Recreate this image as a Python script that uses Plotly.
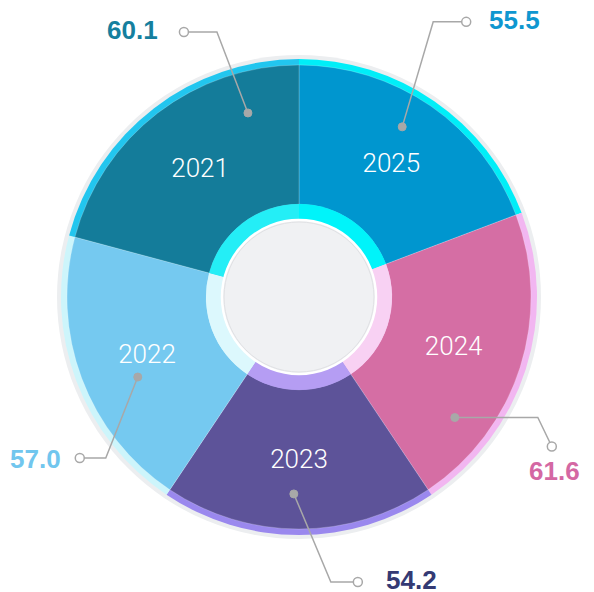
import math
import plotly.graph_objects as go

# slices run clockwise from 12 o'clock
years = ["2025", "2024", "2023", "2022", "2021"]
values = [55.5, 61.6, 54.2, 57.0, 60.1]
value_labels = ["55.5", "61.6", "54.2", "57.0", "60.1"]

main_colors = ["#0096cf", "#d56ea4", "#5d5399", "#75c9f0", "#147c9a"]
rim_colors = ["#00eef8", "#f2b6f1", "#9a88ee", "#cdf5fb", "#22c6ef"]
inner_colors = ["#00f4fa", "#f8d1f3", "#b59df3", "#dcf8fd", "#24eef6"]
text_colors = ["#0f97d0", "#d468a3", "#343a74", "#71c6ee", "#157f9e"]

# page body has an 8px margin, so the figure is drawn 8px in from the corner
PAD = 8
W, H = 594 - PAD, 592 - PAD
CX, CY = 299, 297


def X(x):
    return (x - PAD) / W


def Y(y):
    return 1 - (y - PAD) / H


def domain(r):
    return dict(x=[X(CX - r), X(CX + r)], y=[Y(CY + r), Y(CY - r)])


pie_args = dict(labels=years, values=values, sort=False, direction="clockwise",
                showlegend=False)

fig = go.Figure()

# light grey disc behind everything
fig.add_trace(go.Pie(values=[1], marker=dict(colors=["#eceef0"]), domain=domain(242),
                     textinfo="none", hoverinfo="skip", showlegend=False, sort=False))
# bright outer rim
fig.add_trace(go.Pie(**pie_args, marker=dict(colors=rim_colors),
                     domain=domain(238), textinfo="none", hoverinfo="skip"))
# main slices
fig.add_trace(go.Pie(**pie_args, hole=0.4,
                     marker=dict(colors=main_colors, line=dict(color="rgba(255,255,255,0.35)", width=0.6)),
                     domain=domain(232), textinfo="label", textposition="inside",
                     insidetextorientation="horizontal",
                     textfont=dict(family="Roboto", size=26, color="white", weight=300)))
# light inner ring
fig.add_trace(go.Pie(**pie_args, marker=dict(colors=inner_colors),
                     domain=domain(93), textinfo="none", hoverinfo="skip"))

shapes = []
# centre circle
shapes.append(dict(type="circle", xref="paper", yref="paper",
                   x0=X(CX - 77), x1=X(CX + 77), y0=Y(CY + 77), y1=Y(CY - 77),
                   fillcolor="#f0f1f3", line=dict(color="white", width=2.5)))
shapes.append(dict(type="circle", xref="paper", yref="paper",
                   x0=X(CX - 75), x1=X(CX + 75), y0=Y(CY + 75), y1=Y(CY - 75),
                   fillcolor="rgba(0,0,0,0)", line=dict(color="#e0e1e4", width=1)))

# leader lines: dot inside slice -> elbow -> open circle -> value text
dot_shift = [-3.4, 20, 1.5, -5.8, 22]
dot_r = [199, 197, 197, 180, 191]
elbow = [(31, -105), (83, 0), (37, 88), (-32, 81), (-31, -81)]
end = [(33, 0), (14, 29), (27, 0), (-26, 0), (-33, 0)]
txt = [(21, -2, "left"), (3, 24, "center"), (26, -2, "left"), (-17, 1, "right"), (-24, -2, "right")]

total = sum(values)
annotations = []
for i in range(len(years)):
    cw_mid = (sum(values[:i]) + values[i] / 2) / total * 360
    ang = math.radians(cw_mid + dot_shift[i])
    dx = CX + dot_r[i] * math.sin(ang)
    dy = CY - dot_r[i] * math.cos(ang)
    ex, ey = dx + elbow[i][0], dy + elbow[i][1]
    fx, fy = ex + end[i][0], ey + end[i][1]
    shapes.append(dict(type="path", xref="paper", yref="paper",
                       path=f"M {X(dx)} {Y(dy)} L {X(ex)} {Y(ey)} L {X(fx)} {Y(fy)}",
                       line=dict(color="#a8a8a8", width=1.5)))
    shapes.append(dict(type="circle", xref="paper", yref="paper",
                       x0=X(dx - 4), x1=X(dx + 4), y0=Y(dy + 4), y1=Y(dy - 4),
                       fillcolor="#a8a8a8", line=dict(color="#a8a8a8", width=1)))
    shapes.append(dict(type="circle", xref="paper", yref="paper",
                       x0=X(fx - 4.5), x1=X(fx + 4.5), y0=Y(fy + 4.5), y1=Y(fy - 4.5),
                       fillcolor="white", line=dict(color="#a8a8a8", width=1.5)))
    annotations.append(dict(x=X(fx + txt[i][0]), y=Y(fy + txt[i][1]), xref="paper", yref="paper",
                            text=value_labels[i], showarrow=False, xanchor=txt[i][2], yanchor="middle",
                            font=dict(family="Liberation Sans", size=26, color=text_colors[i], weight="bold")))

fig.update_layout(width=W, height=H, margin=dict(l=0, r=0, t=0, b=0),
                  paper_bgcolor="white", plot_bgcolor="white",
                  shapes=shapes, annotations=annotations)

fig.write_html("out.html")
